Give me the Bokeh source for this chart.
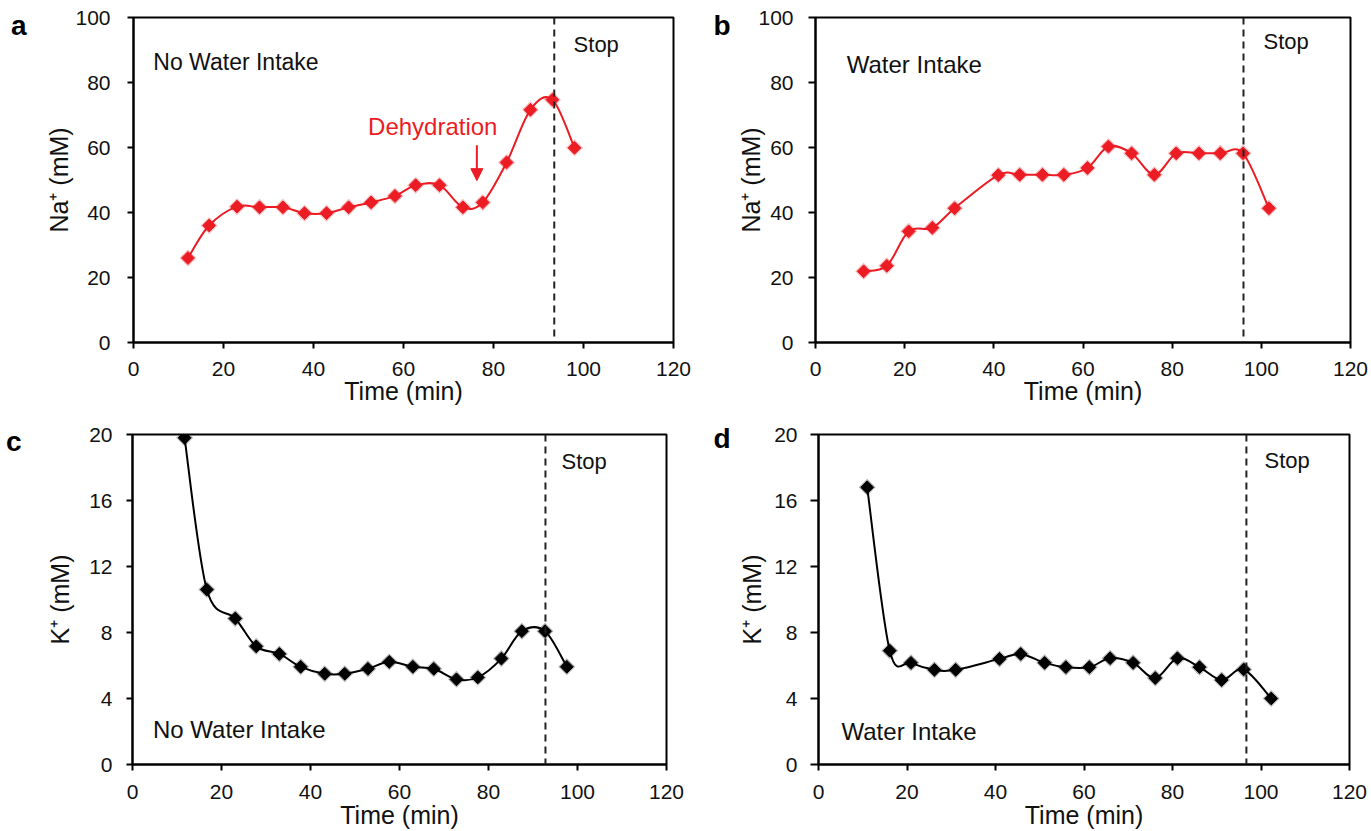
import numpy as np
from bokeh.plotting import figure
from bokeh.layouts import column, row
from bokeh.models import Range1d, Span, Label, Arrow, NormalHead, FixedTicker, LinearAxis
from bokeh.embed import file_html
from bokeh.resources import INLINE

# ---------------- data ----------------
time_a = [12.1, 16.8, 23.0, 28.0, 33.2, 38.0, 42.9, 47.8, 52.8, 58.1, 62.7, 68.0, 73.2, 77.6, 82.9, 88.2, 93.1, 98.0]
na_no_water = [26.0, 36.0, 41.8, 41.6, 41.6, 39.8, 39.8, 41.6, 43.1, 45.1, 48.4, 48.4, 41.6, 43.1, 55.4, 71.6, 74.7, 59.9]

time_b = [10.8, 16.0, 20.9, 26.2, 31.2, 41.0, 45.8, 50.9, 55.7, 61.0, 65.7, 70.9, 76.0, 80.9, 86.0, 90.8, 95.9, 101.7]
na_water = [21.9, 23.6, 34.2, 35.3, 41.3, 51.5, 51.6, 51.6, 51.6, 53.7, 60.3, 58.2, 51.6, 58.2, 58.2, 58.2, 58.2, 41.3]

time_c = [11.7, 16.7, 23.1, 27.8, 33.0, 37.8, 43.2, 47.7, 52.9, 57.7, 63.0, 67.7, 72.8, 77.6, 82.9, 87.5, 92.7, 97.6]
k_no_water = [19.8, 10.6, 8.85, 7.16, 6.7, 5.92, 5.5, 5.5, 5.8, 6.22, 5.92, 5.8, 5.16, 5.28, 6.42, 8.08, 8.08, 5.92]

time_d = [11.0, 16.1, 20.9, 26.2, 31.0, 40.9, 45.7, 51.1, 55.9, 61.2, 65.9, 71.1, 76.1, 81.1, 86.1, 91.1, 96.1, 102.3]
k_water = [16.8, 6.9, 6.16, 5.74, 5.74, 6.4, 6.7, 6.16, 5.9, 5.9, 6.44, 6.16, 5.24, 6.44, 5.9, 5.12, 5.76, 4.0]

stop_a, stop_b, stop_c, stop_d = 93.5, 96.0, 92.8, 96.7
x_ticks = [0, 20, 40, 60, 80, 100, 120]
na_ticks = [0, 20, 40, 60, 80, 100]
k_ticks = [0, 4, 8, 12, 16, 20]
panel_letters = ["a", "b", "c", "d"]

RED = "#ec1c24"
BLACK = "#000000"
FONT = "Liberation Sans"


def smooth_segments(x, y):
    """Bezier control points for a smoothed line through the data points."""
    x = np.asarray(x, float)
    y = np.asarray(y, float)
    xp = np.concatenate([[x[0]], x, [x[-1]]])
    yp = np.concatenate([[y[0]], y, [y[-1]]])
    n = len(x)
    i = np.arange(n - 1)
    x0, y0 = xp[i + 1], yp[i + 1]
    x1, y1 = xp[i + 2], yp[i + 2]
    cx0 = x0 + (xp[i + 2] - xp[i]) / 6.0
    cy0 = y0 + (yp[i + 2] - yp[i]) / 6.0
    cx1 = x1 - (xp[i + 3] - xp[i + 1]) / 6.0
    cy1 = y1 - (yp[i + 3] - yp[i + 1]) / 6.0
    return dict(x0=x0, y0=y0, x1=x1, y1=y1, cx0=cx0, cy0=cy0, cx1=cx1, cy1=cy1)


def make_panel(xs, ys, color, yticks, ymax, ylabel, stop_x, width, height,
               bl, br, bt, bb, y_tick_out, y_label_standoff, y_axlabel_standoff,
               x_label_standoff, x_axlabel_standoff, letter, letter_y, letter_standoff):
    p = figure(width=width, height=height, output_backend="svg", toolbar_location=None,
               x_range=Range1d(0, 120), y_range=Range1d(0, ymax),
               min_border_left=bl, min_border_right=br, min_border_top=bt, min_border_bottom=bb,
               background_fill_color="white", border_fill_color="white")
    p.grid.visible = False
    p.outline_line_color = "black"
    p.outline_line_width = 2
    p.outline_line_alpha = 1.0

    p.xaxis.ticker = FixedTicker(ticks=x_ticks)
    p.yaxis.ticker = FixedTicker(ticks=yticks)
    for ax in (p.xaxis, p.yaxis):
        ax.axis_line_width = 2
        ax.axis_line_color = "black"
        ax.major_tick_line_width = 2
        ax.major_tick_line_color = "black"
        ax.major_tick_in = 0
        ax.minor_tick_line_color = None
        ax.major_label_text_font = FONT
        ax.major_label_text_font_size = "21px"
        ax.major_label_text_color = "#111111"
        ax.axis_label_text_font = FONT
        ax.axis_label_text_font_size = "25px"
        ax.axis_label_text_font_style = "normal"
        ax.axis_label_text_color = "#111111"
    p.xaxis.major_tick_out = 6
    p.yaxis.major_tick_out = y_tick_out
    p.xaxis.major_label_standoff = x_label_standoff
    p.yaxis.major_label_standoff = y_label_standoff
    p.xaxis.axis_label = "Time (min)"
    p.yaxis.axis_label = ylabel
    p.xaxis.axis_label_standoff = x_axlabel_standoff
    p.yaxis.axis_label_standoff = y_axlabel_standoff

    # panel letter, drawn as the single label of an extra, line-less left axis
    lax = LinearAxis(ticker=FixedTicker(ticks=[letter_y]),
                     major_label_overrides={letter_y: letter},
                     axis_line_color=None, major_tick_line_color=None,
                     minor_tick_line_color=None, major_tick_in=0, major_tick_out=0,
                     major_label_standoff=letter_standoff,
                     major_label_text_font=FONT, major_label_text_font_size="28px",
                     major_label_text_font_style="bold", major_label_text_color="black")
    p.add_layout(lax, "left")

    p.add_layout(Span(location=stop_x, dimension="height", line_color="#222222",
                      line_width=2, line_dash="7 5"))

    seg = smooth_segments(xs, ys)
    p.bezier(x0=seg["x0"], y0=seg["y0"], x1=seg["x1"], y1=seg["y1"],
             cx0=seg["cx0"], cy0=seg["cy0"], cx1=seg["cx1"], cy1=seg["cy1"],
             line_color=color, line_width=2)
    p.scatter(xs, ys, marker="square", angle=np.pi / 4, size=12, fill_color=color,
              line_color=None, fill_alpha=0.3)
    p.scatter(xs, ys, marker="square", angle=np.pi / 4, size=9, fill_color=color,
              line_color=color, line_width=1)
    return p


def add_text(p, x, y, text, size, color="#111111", align="left"):
    p.add_layout(Label(x=x, y=y, text=text, text_font=FONT, text_font_size=size,
                       text_color=color, text_align=align, text_baseline="middle"))


# ---------------- panels ----------------
pa = make_panel(time_a, na_no_water, RED, na_ticks, 100, "Na\u207a (mM)", stop_a,
                width=703, height=410, bl=133, br=30, bt=17, bb=68,
                y_tick_out=6, y_label_standoff=17, y_axlabel_standoff=-1,
                x_label_standoff=13, x_axlabel_standoff=-2,
                letter=panel_letters[0], letter_y=97.5, letter_standoff=16)
add_text(pa, 4.4, 86.3, "No Water Intake", "23px")
add_text(pa, 97.8, 91.6, "Stop", "22px")
add_text(pa, 66.5, 66.6, "Dehydration", "24px", color=RED, align="center")
pa.add_layout(Arrow(end=NormalHead(size=12, fill_color=RED, line_color=RED),
                    x_start=76.3, y_start=60.7, x_end=76.3, y_end=49.8,
                    line_color=RED, line_width=2))

pb = make_panel(time_b, na_water, RED, na_ticks, 100, "Na\u207a (mM)", stop_b,
                width=667, height=410, bl=112, br=20, bt=17, bb=68,
                y_tick_out=7, y_label_standoff=15, y_axlabel_standoff=-10,
                x_label_standoff=13, x_axlabel_standoff=-2,
                letter=panel_letters[1], letter_y=97.5, letter_standoff=4)
add_text(pb, 7.0, 85.6, "Water Intake", "24px")
add_text(pb, 100.5, 92.5, "Stop", "22px")

pc = make_panel(time_c, k_no_water, BLACK, k_ticks, 20, "K\u207a (mM)", stop_c,
                width=703, height=421, bl=132, br=37, bt=24, bb=66,
                y_tick_out=6, y_label_standoff=14, y_axlabel_standoff=12,
                x_label_standoff=14, x_axlabel_standoff=-1,
                letter=panel_letters[2], letter_y=19.6, letter_standoff=22)
add_text(pc, 4.6, 2.15, "No Water Intake", "24px")
add_text(pc, 96.4, 18.35, "Stop", "22px")

pd = make_panel(time_d, k_water, BLACK, k_ticks, 20, "K\u207a (mM)", stop_d,
                width=667, height=421, bl=115, br=21, bt=24, bb=66,
                y_tick_out=8, y_label_standoff=13, y_axlabel_standoff=5,
                x_label_standoff=14, x_axlabel_standoff=-1,
                letter=panel_letters[3], letter_y=19.75, letter_standoff=5)
add_text(pd, 5.2, 2.0, "Water Intake", "24px")
add_text(pd, 100.8, 18.44, "Stop", "22px")

layout = column(row(pa, pb), row(pc, pd))
open("out.html", "w").write(file_html(layout, INLINE))
